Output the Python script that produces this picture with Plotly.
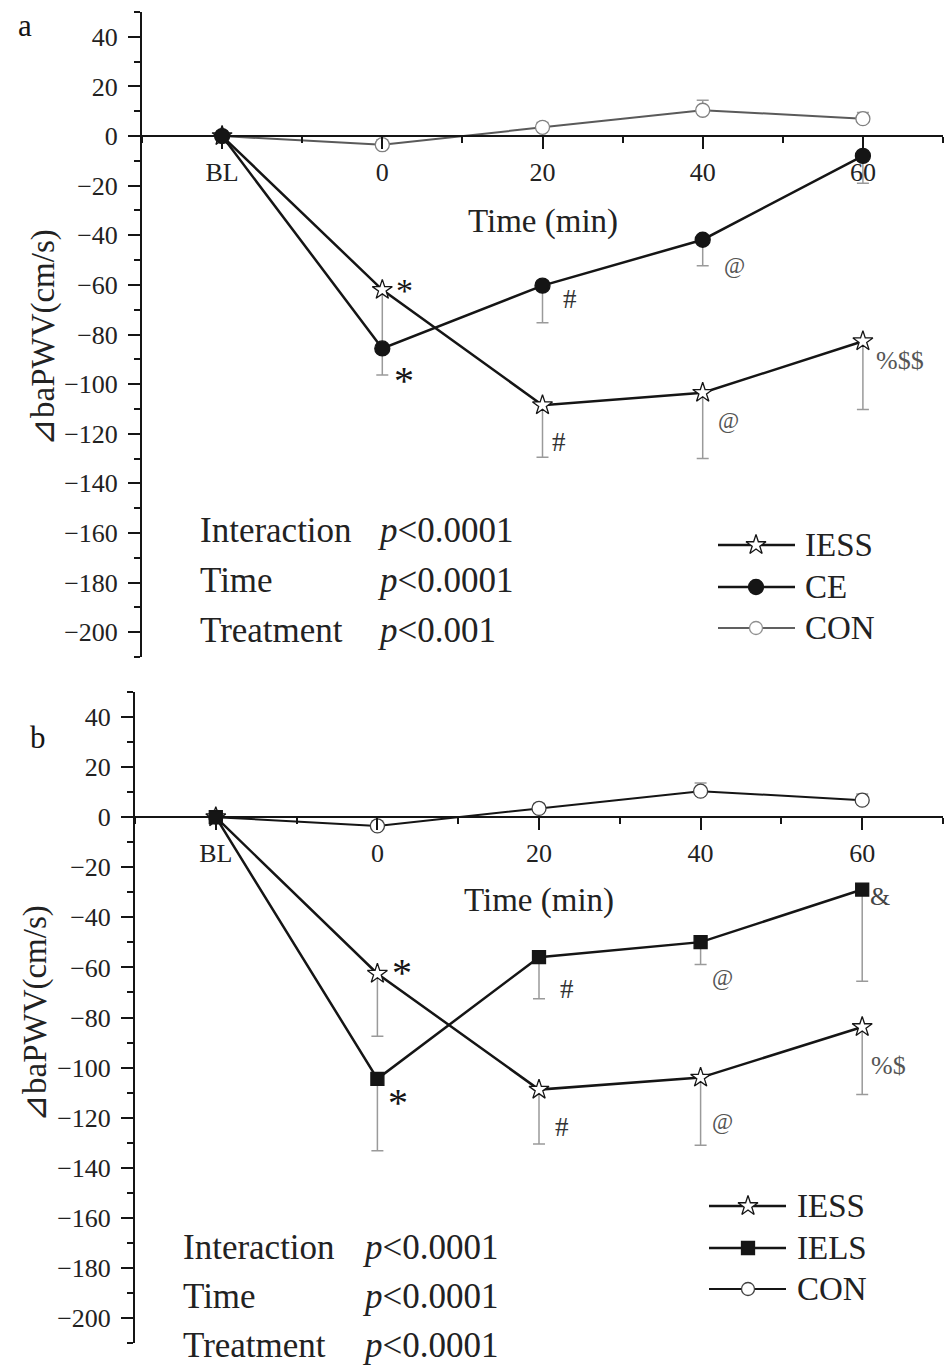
import plotly.graph_objects as go

# ---------------- data ----------------
time_min = [-20, 0, 20, 40, 60]          # BL is drawn at -20
x_tick_vals = [-20, 0, 20, 40, 60]
x_tick_text = ["BL", "0", "20", "40", "60"]
x_minor_vals = [-30, -10, 10, 30, 50, 70]

# panel a
a_iess = [0, -62.0, -108.5, -103.5, -82.7]
a_iess_err = [0, 25.5, 21.0, 26.5, 27.5]
a_ce = [0, -85.6, -60.3, -41.8, -8.0]
a_ce_err = [0, 10.7, 15.0, 10.5, 11.0]
a_con = [0, -3.5, 3.5, 10.4, 7.0]
a_con_err = [0, 2.0, 2.0, 4.0, 2.5]

# panel b
b_iess = [0, -62.5, -108.8, -104.0, -83.8]
b_iess_err = [0, 25.0, 21.7, 27.0, 27.0]
b_iels = [0, -104.5, -55.9, -49.9, -28.9]
b_iels_err = [0, 28.7, 16.6, 8.9, 36.6]
b_con = [0, -3.5, 3.5, 10.4, 6.8]
b_con_err = [0, 2.0, 2.0, 3.3, 2.5]

stats_labels = ["Interaction", "Time", "Treatment"]
a_stats_p = ["<i>p</i>&lt;0.0001", "<i>p</i>&lt;0.0001", "<i>p</i>&lt;0.001"]
b_stats_p = ["<i>p</i>&lt;0.0001", "<i>p</i>&lt;0.0001", "<i>p</i>&lt;0.0001"]

# ---------------- style / layout ----------------
W, H = 950, 1365
SERIF = "Liberation Serif"
INK = "#151515"
ERR = "#9a9a9a"
Y_RANGE = [-210, 50]
X_RANGE = [-30, 70]

panels = {
    "a": dict(px=(142, 943), py=(12, 657), xa="x", ya="y"),
    "b": dict(px=(135, 943), py=(692, 1343), xa="x2", ya="y2"),
}

fig = go.Figure()


def add_series(p, y, err, up, symbol, size, fill, edge, lcolor, lwidth):
    n = len(err)
    zeros = [0] * n
    fig.add_trace(go.Scatter(
        x=time_min, y=y, xaxis=p["xa"], yaxis=p["ya"], mode="lines+markers",
        line=dict(color=lcolor, width=lwidth),
        marker=dict(symbol=symbol, size=size, color=fill, line=dict(color=edge, width=1.3)),
        error_y=dict(type="data", symmetric=False,
                     array=err if up else zeros,
                     arrayminus=zeros if up else err,
                     color=ERR, thickness=1.5, width=6),
        showlegend=False, hoverinfo="skip"))


pa, pb = panels["a"], panels["b"]
add_series(pa, a_con, a_con_err, True, "circle", 14, "white", "#808080", "#5a5a5a", 2)
add_series(pa, a_iess, a_iess_err, False, "star", 15, "white", INK, INK, 2.5)
add_series(pa, a_ce, a_ce_err, False, "circle", 15, INK, INK, INK, 2.5)

add_series(pb, b_con, b_con_err, True, "circle", 14, "white", "#404040", INK, 2)
add_series(pb, b_iess, b_iess_err, False, "star", 15, "white", INK, INK, 2.5)
add_series(pb, b_iels, b_iels_err, False, "square", 13, INK, INK, INK, 2.5)


def axes_for(p):
    x0, x1 = p["px"]
    y0, y1 = p["py"]
    dom_x = [x0 / W, x1 / W]
    dom_y = [1 - y1 / H, 1 - y0 / H]
    zero_pos = dom_y[0] + (0 - Y_RANGE[0]) / (Y_RANGE[1] - Y_RANGE[0]) * (dom_y[1] - dom_y[0])
    xa = dict(domain=dom_x, range=X_RANGE, anchor="free", position=zero_pos,
              tickmode="array", tickvals=x_tick_vals, ticktext=x_tick_text,
              ticks="outside", ticklen=12, tickwidth=2, tickcolor=INK,
              minor=dict(tickmode="array", tickvals=x_minor_vals, ticks="outside",
                         ticklen=6, tickwidth=1.5, tickcolor=INK),
              showline=True, linecolor=INK, linewidth=2, showgrid=False, zeroline=False,
              tickfont=dict(family=SERIF, size=26, color="#222"), ticklabelstandoff=1)
    ya = dict(domain=dom_y, range=Y_RANGE, tickmode="linear", tick0=0, dtick=20,
              ticks="outside", ticklen=12, tickwidth=2, tickcolor=INK,
              minor=dict(dtick=10, ticks="outside", ticklen=6, tickwidth=1.5, tickcolor=INK),
              showline=True, linecolor=INK, linewidth=2, showgrid=False, zeroline=False,
              tickfont=dict(family=SERIF, size=26, color="#222"), ticklabelstandoff=5)
    return xa, ya


xa1, ya1 = axes_for(pa)
xa2, ya2 = axes_for(pb)
ya1["anchor"] = "x"
ya2["anchor"] = "x2"

annotations = []

# significance marks: (panel, series values, index, text, dx, dy, size, colour)
sig_marks = [
    (pa, a_iess, 1, "*", 22, 1, 34, INK),
    (pa, a_ce, 1, "*", 22, 32, 40, INK),
    (pa, a_ce, 2, "#", 27, 13, 27, "#333"),
    (pa, a_ce, 3, "@", 32, 26, 23, "#555"),
    (pa, a_iess, 2, "#", 16, 37, 27, "#333"),
    (pa, a_iess, 3, "@", 26, 28, 23, "#555"),
    (pa, a_iess, 4, "%$$", 37, 19, 26, "#555"),
    (pb, b_iess, 1, "*", 25, -1, 40, INK),
    (pb, b_iels, 1, "*", 21, 24, 40, INK),
    (pb, b_iels, 2, "#", 28, 32, 27, "#333"),
    (pb, b_iels, 3, "@", 22, 35, 23, "#555"),
    (pb, b_iels, 4, "&", 18, 7, 26, "#444"),
    (pb, b_iess, 2, "#", 23, 37, 27, "#333"),
    (pb, b_iess, 3, "@", 22, 44, 23, "#555"),
    (pb, b_iess, 4, "%$", 26, 38, 26, "#555"),
]
for p, vals, i, txt, dx, dy, sz, col in sig_marks:
    annotations.append(dict(
        x=time_min[i], y=vals[i], xref=p["xa"], yref=p["ya"], text=txt, showarrow=False,
        xanchor="center", yanchor="middle", xshift=dx, yshift=-dy,
        font=dict(family=SERIF, size=sz, color=col)))


def pix(x, y, text, size, xanchor="left", color=INK, angle=0):
    annotations.append(dict(x=x, y=y, xref="x3", yref="y3", text=text, showarrow=False,
                            xanchor=xanchor, yanchor="middle", textangle=angle,
                            font=dict(family=SERIF, size=size, color=color)))


# panel letters, axis titles
pix(25, 25, "a", 31, "center")
pix(38, 737, "b", 31, "center")
pix(43, 338, "⊿baPWV(cm/s)", 33, "center", "#222", -90)
pix(35, 1014, "⊿baPWV(cm/s)", 33, "center", "#222", -90)
pix(543, 221, "Time (min)", 33, "center", "#222")
pix(539, 900, "Time (min)", 33, "center", "#222")

# statistics text blocks
for k, lab in enumerate(stats_labels):
    pix(198, 530 + 50 * k, lab, 35, "left", "#222")
    pix(375, 530 + 50 * k, a_stats_p[k], 35, "left", "#222")
    pix(181, 1247 + 49 * k, lab, 35, "left", "#222")
    pix(360, 1247 + 49 * k, b_stats_p[k], 35, "left", "#222")

# custom legends (drawn in pixel space on a hidden overlay axis)
legend_a = [("IESS", "star", 15, "white", INK, INK, 2.5),
            ("CE", "circle", 15, INK, INK, INK, 2.5),
            ("CON", "circle", 13, "white", "#909090", "#606060", 1.8)]
legend_b = [("IESS", "star", 15, "white", INK, INK, 2.5),
            ("IELS", "square", 13, INK, INK, INK, 2.5),
            ("CON", "circle", 13, "white", "#404040", INK, 2.2)]
for entries, (lx0, lx1, lmx, ltx), rows in [
        (legend_a, (718, 795, 756, 803), [545, 587, 628]),
        (legend_b, (709, 786, 748, 795), [1206, 1248, 1289])]:
    for (name, sym, sz, fill, edge, lc, lw), ry in zip(entries, rows):
        fig.add_trace(go.Scatter(x=[lx0, lx1], y=[ry, ry], xaxis="x3", yaxis="y3",
                                 mode="lines", line=dict(color=lc, width=lw),
                                 showlegend=False, hoverinfo="skip"))
        fig.add_trace(go.Scatter(x=[lmx], y=[ry], xaxis="x3", yaxis="y3", mode="markers",
                                 marker=dict(symbol=sym, size=sz, color=fill,
                                             line=dict(color=edge, width=1.3)),
                                 showlegend=False, hoverinfo="skip"))
        pix(ltx, ry, name, 33, "left", "#222")

fig.update_layout(
    width=W, height=H, autosize=False,
    margin=dict(l=0, r=0, t=0, b=0),
    paper_bgcolor="white", plot_bgcolor="rgba(0,0,0,0)",
    showlegend=False,
    xaxis=xa1, yaxis=ya1, xaxis2=xa2, yaxis2=ya2,
    xaxis3=dict(domain=[0, 1], range=[0, W], visible=False, anchor="y3", fixedrange=True),
    yaxis3=dict(domain=[0, 1], range=[H, 0], visible=False, anchor="x3", fixedrange=True),
    annotations=annotations,
)

fig.write_html("out.html")
